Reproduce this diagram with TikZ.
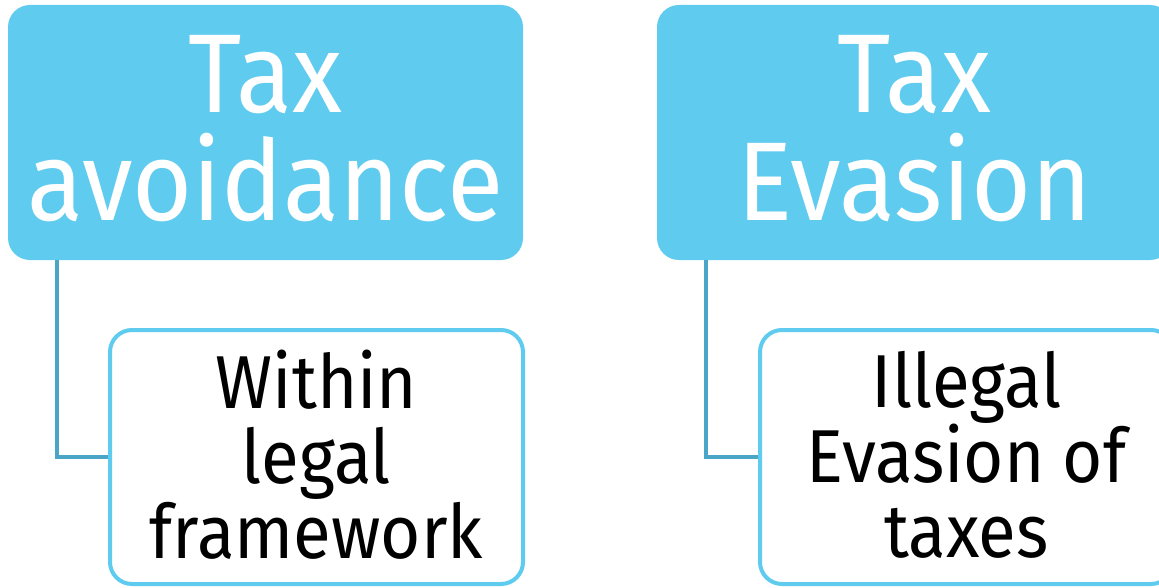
\documentclass[tikz,border=0pt]{standalone}
\usepackage{fontspec}
\setmainfont{Fira Sans}[FakeStretch=0.92]
\usepackage{tikz}
\usetikzlibrary{calc}
\definecolor{headblue}{HTML}{5ECBEF}
\definecolor{linkblue}{HTML}{4BA5C6}

\begin{document}
\begin{tikzpicture}[x=1pt,y=-1pt,
    head/.style={rounded corners=22pt, fill=headblue, text=white, minimum width=515pt, minimum height=255pt, align=center, text depth=10pt, font=\fontsize{112}{108}\selectfont},
    note/.style={rounded corners=22pt, draw=headblue, line width=4pt, fill=white, minimum width=413pt, minimum height=254pt, align=center, text depth=6pt, font=\fontsize{75}{75}\selectfont},
    link/.style={draw=linkblue, line width=4pt}]
    % Page frame
    \path[use as bounding box] (0,0) rectangle (1159,588);
    \clip (0,0) rectangle (1159,588);
    % Headings
    \node[head] (avoid) at (265.5,132.5) {Tax\\avoidance};
    \node[head] (evade) at (914.5,132.5) {Tax\\Evasion};
    % Notes below
    \node[note] (avoidnote) at (316.5,457) {Within\\legal\\framework};
    \node[note] (evadenote) at (966.5,457) {Illegal\\Evasion of\\taxes};
    % Links
    \draw[link] ($(avoid.south west)+(49,0)$) |- (avoidnote.west);
    \draw[link] ($(evade.south west)+(49,0)$) |- (evadenote.west);
\end{tikzpicture}
\end{document}
